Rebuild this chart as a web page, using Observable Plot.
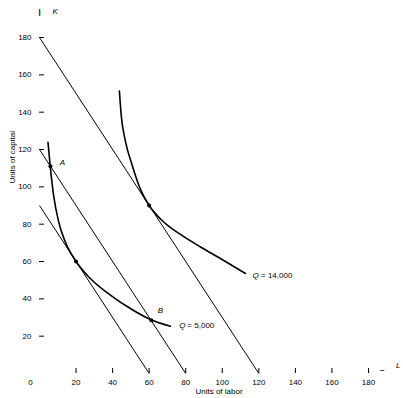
<!DOCTYPE html>
<html><head><meta charset="utf-8">
<script src="https://cdn.jsdelivr.net/npm/d3@7"></script>
<script src="https://cdn.jsdelivr.net/npm/@observablehq/plot@0.6"></script>
<style>body{margin:0;background:#fff} svg{display:block}</style>
</head><body><div id="chart"></div>
<script>
// Tick values
const xTicks = [20, 40, 60, 80, 100, 120, 140, 160, 180];
const yTicks = [20, 40, 60, 80, 100, 120, 140, 160, 180];

// Isocost lines: K-intercept and L-intercept
const isocostK = [180, 120, 90];
const isocostL = [120, 80, 60];

// Isoquant Q = 5,000 (traced)
const q5000L = [4.65, 5.9, 7.7, 10.5, 14.1, 20, 27.8, 38.8, 49.7, 60.7, 71.6];
const q5000K = [123.8, 110.7, 95.6, 81.2, 70.5, 60, 50.9, 42.0, 34.8, 28.9, 25.3];

// Isoquant Q = 14,000 (traced)
const q14000L = [43.7, 44.8, 47.0, 50.7, 55.3, 60.0, 66.2, 77.1, 88.1, 99.0, 112.7];
const q14000K = [151.3, 137.5, 124.5, 111.6, 98.5, 90.0, 82.8, 74.5, 67.8, 61.6, 53.6];

// Marked points
const pointL = [6, 20, 61.2, 60];
const pointK = [111, 60, 28.5, 90];
const pointNames = ["A", "", "B", ""];

const q5000 = q5000L.map((L, i) => ({L, K: q5000K[i]}));
const q14000 = q14000L.map((L, i) => ({L, K: q14000K[i]}));
const points = pointL.map((L, i) => ({L, K: pointK[i], name: pointNames[i]}));
const isocost = isocostK.map((K, i) => ({K, L: isocostL[i]}));
const labelA = points.filter(d => d.name === "A");
const labelB = points.filter(d => d.name === "B");
const end5 = [q5000[q5000.length - 1]];
const end14 = [q14000[q14000.length - 1]];

const chart = Plot.plot({
  width: 403, height: 398,
  marginLeft: 39, marginRight: 35, marginTop: 37, marginBottom: 25,
  x: {domain: [0, 180]},
  y: {domain: [0, 180]},
  style: {fontFamily: "'Liberation Sans', Arial, sans-serif", fontSize: "8px", color: "black", background: "white"},
  marks: [
    Plot.axisY(yTicks, {tickSize: 5, dx: 5, tickFormat: () => "", label: null}),
    Plot.axisY(yTicks, {tickSize: 0, tickPadding: 8, label: null}),
    Plot.axisX(xTicks, {tickSize: 5, dy: -5, tickFormat: () => "", label: null}),
    Plot.axisX(xTicks, {tickSize: 0, tickPadding: 6, label: null}),
    Plot.text(["0"], {x: 0, y: 0, dx: -9, dy: 9}),
    Plot.text(["Units of capital"], {frameAnchor: "left", rotate: -90, dx: -27, dy: -22}),
    Plot.text(["Units of labor"], {frameAnchor: "bottom", dx: 15, dy: 20}),
    Plot.text(["K"], {frameAnchor: "top-left", dx: 13, dy: -29, fontStyle: "italic"}),
    Plot.text(["|"], {frameAnchor: "top-left", dx: -1, dy: -29, fontWeight: "bold"}),
    Plot.text(["L"], {frameAnchor: "bottom-right", dx: 32, dy: -6, fontStyle: "italic"}),
    Plot.text(["–"], {frameAnchor: "bottom-right", dx: 16, dy: -2, fontWeight: "bold"}),
    Plot.link(isocost, {x1: () => 0, y1: "K", x2: "L", y2: () => 0, stroke: "black", strokeWidth: 1}),
    Plot.line(q5000, {x: "L", y: "K", curve: "monotone-x", stroke: "black", strokeWidth: 1.6}),
    Plot.line(q14000, {x: "L", y: "K", curve: "monotone-x", stroke: "black", strokeWidth: 1.6}),
    Plot.dot(points, {x: "L", y: "K", r: 2, fill: "black"}),
    Plot.text(labelA, {x: "L", y: "K", text: "name", dx: 12, dy: -4, fontStyle: "italic"}),
    Plot.text(labelB, {x: "L", y: "K", text: "name", dx: 9, dy: -10, fontStyle: "italic"}),
    Plot.text(end5, {x: "L", y: "K", text: () => "Q", dx: 9, dy: -1, fontStyle: "italic", textAnchor: "start"}),
    Plot.text(end5, {x: "L", y: "K", text: () => "= 5,000", dx: 17, dy: -1, textAnchor: "start"}),
    Plot.text(end14, {x: "L", y: "K", text: () => "Q", dx: 7, dy: 2, fontStyle: "italic", textAnchor: "start"}),
    Plot.text(end14, {x: "L", y: "K", text: () => "= 14,000", dx: 15.5, dy: 2, textAnchor: "start"})
  ]
});
document.getElementById("chart").appendChild(chart);
</script>
</body></html>
